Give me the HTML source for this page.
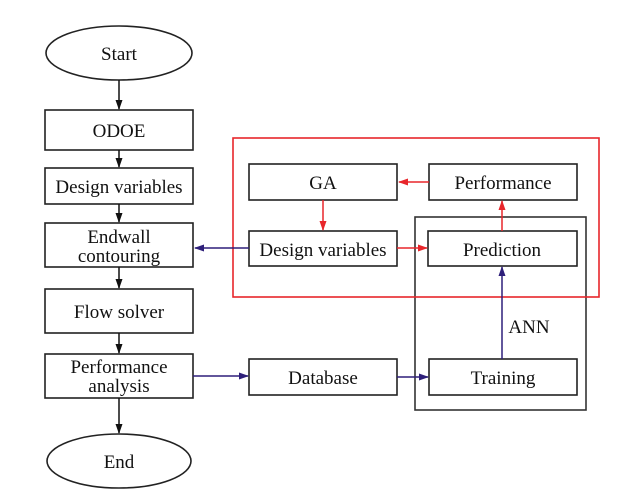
<!DOCTYPE html>
<html><head><meta charset="utf-8"><style>
html,body{margin:0;padding:0;background:#fff;}
svg{display:block;}
text{font-family:"Liberation Serif",serif;font-size:19px;fill:#111;text-anchor:middle;}
</style></head><body>
<svg width="628" height="498" viewBox="0 0 628 498" xmlns="http://www.w3.org/2000/svg">
<defs>
<marker id="ak" markerWidth="10" markerHeight="10" refX="9" refY="5" orient="auto" markerUnits="userSpaceOnUse"><path d="M0,1.5 L10,5 L0,8.5 Z" fill="#111"/></marker>
<marker id="ar" markerWidth="10" markerHeight="10" refX="9" refY="5" orient="auto" markerUnits="userSpaceOnUse"><path d="M0,1.5 L10,5 L0,8.5 Z" fill="#e8262b"/></marker>
<marker id="ab" markerWidth="10" markerHeight="10" refX="9" refY="5" orient="auto" markerUnits="userSpaceOnUse"><path d="M0,1.5 L10,5 L0,8.5 Z" fill="#2e1f7a"/></marker>
</defs>
<g fill="none" stroke="#222" stroke-width="1.6">
<ellipse cx="119" cy="53" rx="73" ry="27"/>
<rect x="45" y="110" width="148" height="40"/>
<rect x="45" y="168" width="148" height="36"/>
<rect x="45" y="223" width="148" height="44"/>
<rect x="45" y="289" width="148" height="44"/>
<rect x="45" y="354" width="148" height="44"/>
<ellipse cx="119" cy="461" rx="72" ry="27"/>
<rect x="249" y="164" width="148" height="36"/>
<rect x="429" y="164" width="148" height="36"/>
<rect x="249" y="231" width="148" height="35"/>
<rect x="428" y="231" width="149" height="35"/>
<rect x="249" y="359" width="148" height="36"/>
<rect x="429" y="359" width="148" height="36"/>
<rect x="415" y="217" width="171" height="193" stroke="#333"/>
</g>
<rect x="233" y="138" width="366" height="159" fill="none" stroke="#e8262b" stroke-width="1.6"/>
<g stroke="#111" stroke-width="1.5">
<line x1="119" y1="80" x2="119" y2="109" marker-end="url(#ak)"/>
<line x1="119" y1="150" x2="119" y2="167" marker-end="url(#ak)"/>
<line x1="119" y1="204" x2="119" y2="222" marker-end="url(#ak)"/>
<line x1="119" y1="267" x2="119" y2="288" marker-end="url(#ak)"/>
<line x1="119" y1="333" x2="119" y2="353" marker-end="url(#ak)"/>
<line x1="119" y1="398" x2="119" y2="433" marker-end="url(#ak)"/>
</g>
<g stroke="#e8262b" stroke-width="1.5">
<line x1="429" y1="182" x2="399" y2="182" marker-end="url(#ar)"/>
<line x1="323" y1="200" x2="323" y2="230" marker-end="url(#ar)"/>
<line x1="397" y1="248" x2="427" y2="248" marker-end="url(#ar)"/>
<line x1="502" y1="231" x2="502" y2="201" marker-end="url(#ar)"/>
</g>
<g stroke="#2e1f7a" stroke-width="1.5">
<line x1="249" y1="248" x2="195" y2="248" marker-end="url(#ab)"/>
<line x1="193" y1="376" x2="248" y2="376" marker-end="url(#ab)"/>
<line x1="397" y1="377" x2="428" y2="377" marker-end="url(#ab)"/>
<line x1="502" y1="359" x2="502" y2="267" marker-end="url(#ab)"/>
</g>
<text x="119" y="60">Start</text>
<text x="119" y="137">ODOE</text>
<text x="119" y="193">Design variables</text>
<text x="119" y="243">Endwall</text>
<text x="119" y="262">contouring</text>
<text x="119" y="318">Flow solver</text>
<text x="119" y="373">Performance</text>
<text x="119" y="392">analysis</text>
<text x="119" y="468">End</text>
<text x="323" y="189">GA</text>
<text x="503" y="189">Performance</text>
<text x="323" y="256">Design variables</text>
<text x="502" y="256">Prediction</text>
<text x="323" y="384">Database</text>
<text x="503" y="384">Training</text>
<text x="529" y="333">ANN</text>
</svg>
</body></html>
